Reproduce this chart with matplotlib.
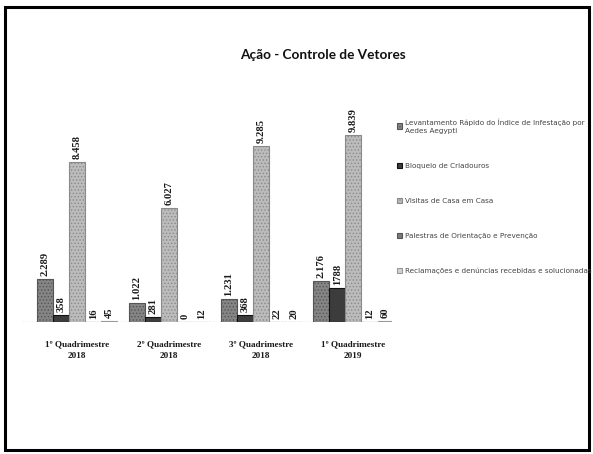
import matplotlib
matplotlib.use('Agg')
import matplotlib.pyplot as plt
import numpy as np
from matplotlib.patches import Rectangle

# ---- data ----
categories = ["1º Quadrimestre\n2018", "2º Quadrimestre\n2018",
              "3º Quadrimestre\n2018", "1º Quadrimestre\n2019"]
series_names = [
    "Levantamento Rápido do Índice de Infestação por\nAedes Aegypti",
    "Bloqueio de Criadouros",
    "Visitas de Casa em Casa",
    "Palestras de Orientação e Prevenção",
    "Reclamações e denúncias recebidas e solucionadas",
]
levantamento = [2289, 1022, 1231, 2176]
bloqueio = [358, 281, 368, 1788]
visitas = [8458, 6027, 9285, 9839]
palestras = [16, 0, 22, 12]
reclamacoes = [45, 12, 20, 60]
value_labels = [
    ["2.289", "1.022", "1.231", "2.176"],
    ["358", "281", "368", "1788"],
    ["8.458", "6.027", "9.285", "9.839"],
    ["16", "0", "22", "12"],
    ["45", "12", "20", "60"],
]
title = "Ação - Controle de Vetores"

series = [levantamento, bloqueio, visitas, palestras, reclamacoes]
colors = ['#858585', '#3c3c3c', '#bcbcbc', '#7a7a7a', '#d2d2d2']
edges = ['#555555', '#111111', '#8a8a8a', '#555555', '#999999']

plt.rcParams['hatch.color'] = '#6a6a6a'
plt.rcParams['hatch.linewidth'] = 0.6

W, H = 593, 454
fig = plt.figure(figsize=(W / 100, H / 100), dpi=100)
fig.patch.set_facecolor('white')

ax = fig.add_axes([22 / W, (H - 322) / H, (392 - 22) / W, 222 / H])
x = np.arange(len(categories))
w = 0.175
bars = []
for i, (vals, c, ec) in enumerate(zip(series, colors, edges)):
    b = ax.bar(x + (i - 2) * w, vals, width=w, color=c, edgecolor=ec,
               linewidth=0.8, hatch='.....' if i in (0, 2) else None, zorder=2)
    bars.append(b)
    for rect, lab in zip(b, value_labels[i]):
        ax.text(rect.get_x() + rect.get_width() / 2, rect.get_height() + 150, lab,
                rotation=90, ha='center', va='bottom', fontsize=7.6,
                fontweight='bold', family='Liberation Serif', color='#1a1a1a')

ax.set_xlim(-0.6, 3.42)
ax.set_ylim(0, 11700)
for s in ax.spines.values():
    s.set_visible(False)
ax.axhline(0, color='#888888', lw=0.9, ls=(0, (1, 1.5)), zorder=1)
ax.set_yticks([])
ax.set_xticks(x)
ax.set_xticklabels(categories, fontsize=6.6, fontweight='bold',
                   family='Liberation Serif', color='#1a1a1a', linespacing=1.6)
ax.tick_params(axis='x', length=0, pad=13)

fig.text(323 / W, 1 - 55 / H, title, ha='center', va='center',
         fontsize=9.8, fontweight='bold', family='Lato', color='#111111')

leg = fig.legend(bars, series_names, loc='upper left',
                 bbox_to_anchor=(397 / W, 1 - 118 / H), frameon=False,
                 fontsize=5.2, handlelength=0.7, handleheight=0.7,
                 handletextpad=0.4, labelspacing=4.0, borderpad=0,
                 borderaxespad=0)
for t in leg.get_texts():
    t.set_color('#444444')
    t.set_linespacing(1.5)

fig.patches.append(Rectangle((5 / W, 4 / H), (589 - 5) / W, (447 - 4) / H,
                             transform=fig.transFigure, fill=False,
                             lw=2.2, ec='black'))

fig.savefig('out.png', dpi=100)
